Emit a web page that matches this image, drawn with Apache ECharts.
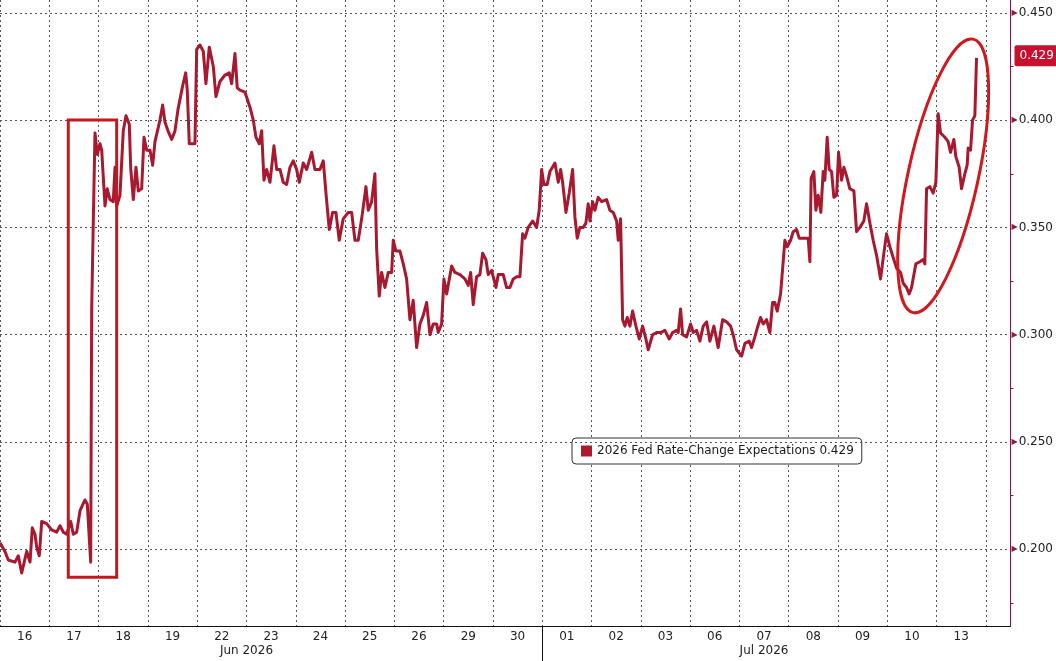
<!DOCTYPE html>
<html>
<head>
<meta charset="utf-8">
<style>
  html, body { margin: 0; padding: 0; background: #fff; }
  #chart { width: 1056px; height: 661px; }
</style>
<script src="https://cdn.jsdelivr.net/npm/echarts@6/dist/echarts.min.js"></script>
</head>
<body>
<div id="chart"></div>
<script>
// ---- data ----
const seriesName = '2026 Fed Rate-Change Expectations';
const dayLabels = ['16','17','18','19','22','23','24','25','26','29','30','01','02','03','06','07','08','09','10','13'];
const monthLabels = ['Jun 2026', 'Jul 2026'];
const monthLabelPos = [5, 15.5];
const monthBreaks = [11];
const yTicks = [0.2, 0.25, 0.3, 0.35, 0.4, 0.45];
const yMinorTicks = [0.175, 0.225, 0.275, 0.325, 0.375, 0.425];
// time in trading-day units (0 = start of 16 Jun)
const times = [
0,0.101,0.168,0.304,0.371,0.440,0.542,0.609,0.655,0.710,0.744,0.797,0.846,0.947,1.049,1.150,1.217,1.284,1.353,1.434,
1.487,1.556,1.623,1.724,1.771,1.811,1.840,1.860,1.892,1.927,1.974,2.028,2.063,2.130,2.176,2.231,2.298,2.333,2.367,2.434,
2.501,2.556,2.623,2.651,2.704,2.759,2.805,2.874,2.921,2.976,3.043,3.097,3.144,3.245,3.300,3.347,3.408,3.483,3.550,3.611,
3.706,3.767,3.799,3.840,3.955,3.990,4.057,4.124,4.178,4.245,4.327,4.381,4.462,4.564,4.651,4.700,4.767,4.813,4.868,4.970,
5.071,5.138,5.193,5.260,5.308,5.355,5.410,5.477,5.558,5.613,5.680,5.746,5.815,5.882,5.949,6.018,6.071,6.152,6.221,6.323,
6.389,6.491,6.558,6.613,6.680,6.748,6.815,6.882,6.963,7.065,7.134,7.201,7.268,7.337,7.424,7.471,7.540,7.606,7.641,7.694,
7.742,7.809,7.876,7.945,7.978,8.032,8.114,8.181,8.249,8.316,8.383,8.452,8.519,8.586,8.655,8.722,8.789,8.858,8.890,8.959,
9.006,9.061,9.162,9.229,9.331,9.432,9.499,9.548,9.600,9.669,9.736,9.791,9.858,9.905,9.974,10.061,10.108,10.209,10.278,10.345,
10.412,10.481,10.548,10.602,10.649,10.716,10.805,10.886,10.939,10.988,11.034,11.101,11.156,11.258,11.325,11.373,11.414,11.481,11.548,11.617,
11.663,11.710,11.765,11.832,11.886,11.933,11.968,12.022,12.069,12.136,12.205,12.306,12.373,12.440,12.509,12.542,12.590,12.631,12.677,12.724,
12.779,12.834,12.901,12.968,13.037,13.103,13.150,13.239,13.320,13.402,13.489,13.576,13.645,13.726,13.759,13.807,13.848,13.929,14.010,14.063,
14.132,14.199,14.266,14.335,14.402,14.483,14.570,14.659,14.740,14.821,14.874,14.943,15.045,15.112,15.199,15.247,15.314,15.361,15.430,15.483,
15.552,15.619,15.673,15.720,15.767,15.836,15.876,15.923,15.970,16.039,16.091,16.160,16.213,16.329,16.396,16.430,16.456,16.511,16.552,16.598,
16.653,16.700,16.734,16.781,16.822,16.870,16.917,16.972,17.012,17.073,17.120,17.174,17.241,17.323,17.377,17.444,17.525,17.580,17.647,17.714,
17.783,17.864,17.931,17.985,18.053,18.120,18.189,18.270,18.323,18.391,18.444,18.493,18.525,18.580,18.661,18.728,18.763,18.797,18.864,18.931,
18.986,19.032,19.081,19.168,19.235,19.284,19.351,19.391,19.459,19.507,19.574,19.621,19.641,19.690,19.730,19.777,19.811
];
const values = [
0.203,0.199,0.195,0.194,0.197,0.189,0.199,0.194,0.210,0.207,0.201,0.197,0.213,0.212,0.209,0.208,0.211,0.208,0.207,0.213,
0.207,0.208,0.218,0.223,0.221,0.221,0.194,0.312,0.352,0.394,0.384,0.389,0.386,0.360,0.368,0.363,0.362,0.378,0.360,0.365,
0.395,0.402,0.398,0.378,0.363,0.378,0.367,0.368,0.392,0.386,0.386,0.379,0.390,0.400,0.407,0.399,0.395,0.391,0.395,0.405,
0.416,0.422,0.414,0.389,0.389,0.433,0.435,0.432,0.417,0.434,0.425,0.411,0.418,0.421,0.422,0.417,0.431,0.415,0.414,0.413,
0.406,0.400,0.392,0.389,0.395,0.372,0.377,0.371,0.388,0.377,0.377,0.371,0.370,0.378,0.381,0.377,0.371,0.380,0.377,0.385,
0.377,0.377,0.381,0.366,0.349,0.357,0.357,0.344,0.354,0.357,0.357,0.344,0.344,0.354,0.369,0.358,0.362,0.375,0.340,0.318,
0.329,0.322,0.329,0.329,0.344,0.339,0.339,0.333,0.326,0.307,0.316,0.294,0.305,0.309,0.315,0.300,0.305,0.305,0.301,0.305,
0.326,0.319,0.332,0.329,0.328,0.326,0.323,0.329,0.314,0.327,0.328,0.338,0.335,0.328,0.330,0.322,0.328,0.328,0.322,0.322,
0.326,0.327,0.327,0.347,0.345,0.350,0.353,0.350,0.358,0.377,0.370,0.370,0.376,0.380,0.371,0.377,0.371,0.357,0.366,0.377,
0.355,0.345,0.350,0.350,0.352,0.361,0.353,0.362,0.358,0.364,0.362,0.363,0.358,0.357,0.353,0.344,0.354,0.307,0.304,0.308,
0.304,0.311,0.304,0.298,0.304,0.298,0.293,0.300,0.301,0.301,0.302,0.298,0.301,0.302,0.301,0.312,0.300,0.299,0.305,0.301,
0.302,0.297,0.304,0.306,0.297,0.304,0.294,0.307,0.306,0.304,0.300,0.293,0.290,0.296,0.297,0.294,0.299,0.303,0.308,0.305,
0.307,0.301,0.315,0.315,0.311,0.319,0.319,0.344,0.341,0.344,0.348,0.349,0.345,0.345,0.345,0.334,0.373,0.376,0.358,0.365,
0.357,0.376,0.372,0.392,0.377,0.376,0.364,0.365,0.385,0.372,0.378,0.374,0.368,0.367,0.348,0.350,0.353,0.361,0.352,0.344,
0.337,0.326,0.338,0.347,0.341,0.336,0.331,0.329,0.324,0.322,0.319,0.322,0.322,0.333,0.334,0.335,0.333,0.368,0.369,0.366,
0.371,0.403,0.394,0.392,0.390,0.385,0.391,0.383,0.378,0.368,0.375,0.379,0.387,0.386,0.400,0.402,0.429
];
// hand-drawn highlight annotations (in data space)
const highlightBox = { t0: 1.385, t1: 2.367, v0: 0.187, v1: 0.400 };
const highlightOval = { t: 19.134, v: 0.374, rx: 35, ry: 140, tilt: -0.216 };

// ---- chart ----
const lastValue = values[values.length - 1];
const lineData = times.map((t, i) => [t, values[i]]);
const FONT = 'DejaVu Sans';
const X_MIN = 0, X_MAX = 20.5;
const Y_MIN = 0.16426, Y_MAX = 0.45597;

const chart = echarts.init(document.getElementById('chart'), null, { renderer: 'canvas' });
chart.setOption({
  animation: false,
  backgroundColor: '#ffffff',
  textStyle: { fontFamily: FONT },
  grid: { left: 0, right: 45, top: 0, bottom: 35, containLabel: false },
  legend: {
    show: true,
    left: 572, top: 438,
    padding: [7, 8, 7, 9],
    itemWidth: 11, itemHeight: 11, itemGap: 5,
    icon: 'rect',
    backgroundColor: '#fff',
    borderColor: '#333', borderWidth: 1, borderRadius: 4,
    textStyle: { fontFamily: FONT, fontSize: 12, color: '#1a1a1a' },
    formatter: (name) => name + ' ' + lastValue.toFixed(3),
    data: [seriesName]
  },
  xAxis: [{
    type: 'value', min: X_MIN, max: X_MAX, interval: 1,
    axisLine: { show: true, onZero: false, lineStyle: { color: '#111', width: 1 } },
    axisTick: { show: false },
    splitLine: { show: true, lineStyle: { color: '#555', width: 1, type: [2, 3] } },
    axisLabel: {
      show: true, margin: 5, fontSize: 12, color: '#222', fontFamily: FONT,
      customValues: dayLabels.map((d, i) => i + 0.5),
      formatter: (v) => dayLabels[Math.floor(v)] || ''
    }
  }, {
    type: 'value', min: X_MIN, max: X_MAX, position: 'bottom', gridIndex: 0,
    axisLine: { show: false, onZero: false },
    axisTick: { show: true, customValues: monthBreaks, length: 36, inside: false, lineStyle: { color: '#111', width: 1 } },
    splitLine: { show: false },
    axisLabel: {
      show: true, margin: 19, fontSize: 12, color: '#222', fontFamily: FONT,
      customValues: monthLabelPos,
      formatter: (v) => { const k = monthLabelPos.indexOf(v); return k >= 0 ? monthLabels[k] : ''; }
    }
  }],
  yAxis: {
    type: 'value', position: 'right', min: Y_MIN, max: Y_MAX,
    axisLine: { show: true, onZero: false, lineStyle: { color: '#7a1d3c', width: 1 } },
    axisTick: { show: true, customValues: yMinorTicks, length: 3, lineStyle: { color: '#7a1d3c' } },
    splitLine: { show: false },
    axisLabel: {
      show: true, margin: 1, fontFamily: FONT,
      customValues: yTicks,
      formatter: (v) => '{t|\u25B6}{n|' + v.toFixed(3) + '}',
      rich: {
        t: { fontSize: 8, color: '#8a1c3c', padding: [0, 1, 0, 0] },
        n: { fontSize: 12, color: '#222', fontFamily: FONT }
      }
    }
  },
  series: [{
    name: '__grid',
    type: 'line',
    data: [[X_MIN, yTicks[0]]],
    showSymbol: false, silent: true,
    lineStyle: { width: 0, opacity: 0 },
    z: 1,
    markLine: {
      silent: true, symbol: ['none', 'none'],
      label: { show: false },
      lineStyle: { color: '#555', width: 1, type: [2, 3] },
      data: yTicks.map((v) => ({ yAxis: v }))
    }
  }, {
    name: seriesName,
    type: 'line',
    data: lineData,
    showSymbol: false,
    color: '#b0182f',
    lineStyle: { color: '#a8182f', width: 3, join: 'round' },
    z: 5,
    markLine: {
      silent: true, symbol: ['none', 'none'],
      lineStyle: { color: 'rgba(0,0,0,0)', width: 1, opacity: 1 },
      label: {
        show: true, position: 'end', distance: 4, opacity: 1,
        formatter: () => lastValue.toFixed(3),
        backgroundColor: '#c8102e', color: '#fff',
        fontSize: 12, fontFamily: FONT,
        padding: [5, 4, 4, 5], borderRadius: 2
      },
      data: [{ yAxis: lastValue }]
    }
  }]
});

// place the hand-drawn annotations in data space
const p0 = chart.convertToPixel({ gridIndex: 0 }, [highlightBox.t0, highlightBox.v1]);
const p1 = chart.convertToPixel({ gridIndex: 0 }, [highlightBox.t1, highlightBox.v0]);
const pc = chart.convertToPixel({ gridIndex: 0 }, [highlightOval.t, highlightOval.v]);
chart.setOption({
  graphic: [{
    type: 'rect', z: 100,
    shape: { x: p0[0], y: p0[1], width: p1[0] - p0[0], height: p1[1] - p0[1] },
    style: { fill: 'none', stroke: '#c8161d', lineWidth: 3 }
  }, {
    type: 'ellipse', z: 100,
    x: pc[0], y: pc[1], rotation: highlightOval.tilt,
    shape: { cx: 0, cy: 0, rx: highlightOval.rx, ry: highlightOval.ry },
    style: { fill: 'none', stroke: '#d0191f', lineWidth: 3 }
  }]
});
</script>
</body>
</html>
